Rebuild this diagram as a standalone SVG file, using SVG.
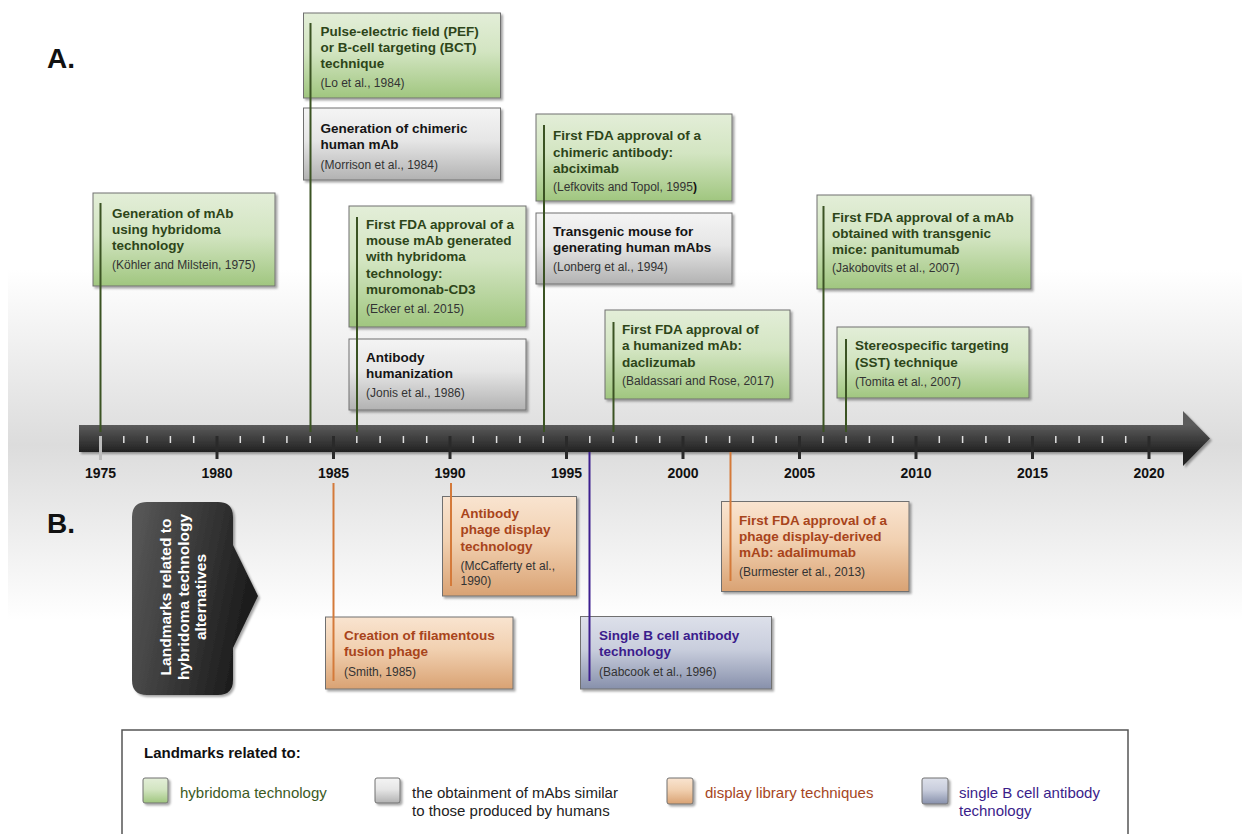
<svg xmlns="http://www.w3.org/2000/svg" width="1242" height="834" viewBox="0 0 1242 834">
<defs>
<linearGradient id="bg" x1="0" y1="270" x2="0" y2="620" gradientUnits="userSpaceOnUse">
<stop offset="0" stop-color="#ffffff"/><stop offset="0.5" stop-color="#dcdcdc"/><stop offset="1" stop-color="#ffffff"/>
</linearGradient>
<linearGradient id="gG" x1="0" y1="0" x2="0" y2="1"><stop offset="0" stop-color="#e3eed8"/><stop offset="0.45" stop-color="#d3e5c2"/><stop offset="1" stop-color="#a0c67f"/></linearGradient>
<linearGradient id="gY" x1="0" y1="0" x2="0" y2="1"><stop offset="0" stop-color="#f4f4f4"/><stop offset="0.45" stop-color="#e6e6e6"/><stop offset="1" stop-color="#b2b2b2"/></linearGradient>
<linearGradient id="gO" x1="0" y1="0" x2="0" y2="1"><stop offset="0" stop-color="#f9e4d0"/><stop offset="0.45" stop-color="#f1d0b0"/><stop offset="1" stop-color="#d9a273"/></linearGradient>
<linearGradient id="gB" x1="0" y1="0" x2="0" y2="1"><stop offset="0" stop-color="#dde0ea"/><stop offset="0.45" stop-color="#c9cedd"/><stop offset="1" stop-color="#8790ab"/></linearGradient>
<linearGradient id="bar" x1="0" y1="411" x2="0" y2="466" gradientUnits="userSpaceOnUse"><stop offset="0.25" stop-color="#5c5c5c"/><stop offset="0.75" stop-color="#212121"/></linearGradient>
<linearGradient id="dark" x1="0" y1="0" x2="1" y2="0.3"><stop offset="0" stop-color="#5a5a5a"/><stop offset="1" stop-color="#1c1c1c"/></linearGradient>
<filter id="sh" x="-10%" y="-10%" width="130%" height="130%"><feDropShadow dx="2" dy="2" stdDeviation="1.3" flood-color="#000" flood-opacity="0.35"/></filter>
</defs>
<style>
.box{stroke:#707070;stroke-width:1;filter:url(#sh)}
.g{fill:url(#gG)} .y{fill:url(#gY)} .o{fill:url(#gO)} .b{fill:url(#gB)}
.t{font-family:"Liberation Sans",Arial,sans-serif;font-weight:bold;font-size:13.5px}
.tg{fill:#2d4519} .ty{fill:#151515} .to{fill:#a8441b} .tb{fill:#3b1c8c}
.c{font-family:"Liberation Sans",Arial,sans-serif;font-size:12px;fill:#333}
.yr{font-family:"Liberation Sans",Arial,sans-serif;font-weight:bold;font-size:14px;fill:#111;text-anchor:middle}
.lg{fill:none;stroke:#3b5323;stroke-width:2}
.lo{fill:none;stroke:#d47a3a;stroke-width:2}
.lp{fill:none;stroke:#3d1f8f;stroke-width:2}
.leg{font-family:"Liberation Sans",Arial,sans-serif;font-size:15px}
.big{font-family:"Liberation Sans",Arial,sans-serif;font-weight:bold;font-size:28px;fill:#111}
</style>
<rect x="8" y="270" width="1234" height="350" fill="url(#bg)"/>
<text class="big" x="47" y="68">A.</text>
<text class="big" x="47" y="533">B.</text>

<g id="axis">
<path d="M79,425 H1183 V411 L1210,438.5 L1183,466 V452 H79 Z" fill="url(#bar)" filter="url(#sh)"/>
<path d="M123.8,436V443M147.1,436V443M170.4,436V443M193.7,436V443M240.3,436V443M263.6,436V443M286.9,436V443M310.2,436V443M356.8,436V443M380.1,436V443M403.4,436V443M426.7,436V443M473.3,436V443M496.6,436V443M519.9,436V443M543.2,436V443M589.8,436V443M613.1,436V443M636.4,436V443M659.7,436V443M706.3,436V443M729.6,436V443M752.9,436V443M776.2,436V443M822.8,436V443M846.1,436V443M869.4,436V443M892.7,436V443M939.3,436V443M962.6,436V443M985.9,436V443M1009.2,436V443M1055.8,436V443M1079.1,436V443M1102.4,436V443M1125.7,436V443" stroke="#e0e0e0" stroke-width="1.5"/>
<path d="M217,436V459M333.5,436V459M450,436V459M566.5,436V459M683,436V459M799.5,436V459M916,436V459M1032.5,436V459M1149,436V459" stroke="#2a2a2a" stroke-width="3"/>
<path d="M100.5,436V460" stroke="#bdbdbd" stroke-width="3"/>
<text class="yr" x="100.5" y="478">1975</text>
<text class="yr" x="217" y="478">1980</text>
<text class="yr" x="333.5" y="478">1985</text>
<text class="yr" x="450" y="478">1990</text>
<text class="yr" x="566.5" y="478">1995</text>
<text class="yr" x="683" y="478">2000</text>
<text class="yr" x="799.5" y="478">2005</text>
<text class="yr" x="916" y="478">2010</text>
<text class="yr" x="1032.5" y="478">2015</text>
<text class="yr" x="1149" y="478">2020</text>
</g>

<g id="n1975">
<rect class="box g" x="93" y="193" width="182" height="93"/>
<text class="t tg" x="112" y="218">Generation of mAb</text>
<text class="t tg" x="112" y="234">using hybridoma</text>
<text class="t tg" x="112" y="250">technology</text>
<text class="c" x="112" y="269">(Köhler and Milstein, 1975)</text>
</g>
<g id="nPEF">
<rect class="box g" x="303.5" y="13" width="197" height="85"/>
<text class="t tg" x="320.5" y="36">Pulse-electric field (PEF)</text>
<text class="t tg" x="320.5" y="52">or B-cell targeting (BCT)</text>
<text class="t tg" x="320.5" y="68">technique</text>
<text class="c" x="320.5" y="87">(Lo et al., 1984)</text>
</g>
<g id="nChimeric">
<rect class="box y" x="303.5" y="108" width="197" height="72"/>
<text class="t ty" x="320.5" y="132.5">Generation of chimeric</text>
<text class="t ty" x="320.5" y="148.5">human mAb</text>
<text class="c" x="320.5" y="169">(Morrison et al., 1984)</text>
</g>
<g id="nMuromonab">
<rect class="box g" x="349" y="206" width="177" height="121"/>
<text class="t tg" x="366" y="229">First FDA approval of a</text>
<text class="t tg" x="366" y="245">mouse mAb generated</text>
<text class="t tg" x="366" y="261">with hybridoma</text>
<text class="t tg" x="366" y="277.5">technology:</text>
<text class="t tg" x="366" y="294">muromonab-CD3</text>
<text class="c" x="366" y="313">(Ecker et al. 2015)</text>
</g>
<g id="nHumanization">
<rect class="box y" x="349" y="339" width="177" height="71"/>
<text class="t ty" x="366" y="361.5">Antibody</text>
<text class="t ty" x="366" y="377.5">humanization</text>
<text class="c" x="366" y="397">(Jonis et al., 1986)</text>
</g>
<g id="nAbciximab">
<rect class="box g" x="536" y="114" width="196" height="87"/>
<text class="t tg" x="553" y="140">First FDA approval of a</text>
<text class="t tg" x="553" y="156.5">chimeric antibody:</text>
<text class="t tg" x="553" y="173">abciximab</text>
<text class="c" x="553" y="191">(Lefkovits and Topol, 1995<tspan font-weight="bold" fill="#111">)</tspan></text>
</g>
<g id="nTransgenic">
<rect class="box y" x="536" y="213" width="196" height="71"/>
<text class="t ty" x="553" y="236">Transgenic mouse for</text>
<text class="t ty" x="553" y="252">generating human mAbs</text>
<text class="c" x="553" y="271">(Lonberg et al., 1994)</text>
</g>
<g id="nDaclizumab">
<rect class="box g" x="605" y="310" width="185" height="89"/>
<text class="t tg" x="622" y="334">First FDA approval of</text>
<text class="t tg" x="622" y="350">a humanized mAb:</text>
<text class="t tg" x="622" y="366.5">daclizumab</text>
<text class="c" x="622" y="385">(Baldassari and Rose, 2017)</text>
</g>
<g id="nPanitumumab">
<rect class="box g" x="817" y="195" width="214" height="94"/>
<text class="t tg" x="832" y="221.5">First FDA approval of a mAb</text>
<text class="t tg" x="832" y="237.5">obtained with transgenic</text>
<text class="t tg" x="832" y="254">mice: panitumumab</text>
<text class="c" x="832" y="272">(Jakobovits et al., 2007)</text>
</g>
<g id="nSST">
<rect class="box g" x="837" y="327" width="192" height="71"/>
<text class="t tg" x="855" y="350">Stereospecific targeting</text>
<text class="t tg" x="855" y="366.5">(SST) technique</text>
<text class="c" x="855" y="386">(Tomita et al., 2007)</text>
</g>

<g id="sideLabel">
<path d="M147,502 H218 Q233,502 233,517 V545 L258,596 L233,648 V680 Q233,695 218,695 H147 Q132,695 132,680 V517 Q132,502 147,502 Z" fill="url(#dark)" filter="url(#sh)"/>
<g font-family="Liberation Sans, Arial, sans-serif" font-weight="bold" font-size="15.5" fill="#ffffff" text-anchor="middle">
<text transform="translate(171,597) rotate(-90)">Landmarks related to</text>
<text transform="translate(188.5,597) rotate(-90)">hybridoma technology</text>
<text transform="translate(205.5,597) rotate(-90)">alternatives</text>
</g>
</g>

<g id="nFilamentous">
<rect class="box o" x="325.5" y="617" width="187.5" height="72"/>
<text class="t to" x="344" y="640">Creation of filamentous</text>
<text class="t to" x="344" y="656">fusion phage</text>
<text class="c" x="344" y="676">(Smith, 1985)</text>
</g>
<g id="nPhage">
<rect class="box o" x="442.5" y="496.5" width="134" height="99.5"/>
<text class="t to" x="460.5" y="518">Antibody</text>
<text class="t to" x="460.5" y="534">phage display</text>
<text class="t to" x="460.5" y="550.5">technology</text>
<text class="c" x="460.5" y="570">(McCafferty et al.,</text>
<text class="c" x="460.5" y="585">1990)</text>
</g>
<g id="nAdalimumab">
<rect class="box o" x="721.5" y="501.5" width="187.5" height="90"/>
<text class="t to" x="739" y="525">First FDA approval of a</text>
<text class="t to" x="739" y="540.5">phage display-derived</text>
<text class="t to" x="739" y="556.5">mAb: adalimumab</text>
<text class="c" x="739" y="576">(Burmester et al., 2013)</text>
</g>
<g id="nSingleB">
<rect class="box b" x="580.5" y="616.5" width="191" height="72.5"/>
<text class="t tb" x="599" y="640">Single B cell antibody</text>
<text class="t tb" x="599" y="656">technology</text>
<text class="c" x="599" y="676">(Babcook et al., 1996)</text>
</g>

<g id="connectors">
<path class="lg" d="M100.5,203V432"/>
<path class="lg" d="M310.5,23V432"/>
<path class="lg" d="M357,217V432"/>
<path class="lg" d="M544,125V432"/>
<path class="lg" d="M613.5,322V432"/>
<path class="lg" d="M823.5,206V432"/>
<path class="lg" d="M846,339V432"/>
<path class="lo" d="M333.5,483V681"/>
<path class="lo" d="M451,483V586"/>
<path class="lo" d="M730.5,452V581"/>
<path class="lp" d="M589.5,452V681"/>
</g>

<g id="legend">
<rect x="122" y="730" width="1006" height="120" fill="#ffffff" stroke="#555" stroke-width="1.5"/>
<text class="leg" x="144" y="758" font-weight="bold" fill="#111">Landmarks related to:</text>
<rect class="box g" x="143" y="778" width="25" height="25" rx="2"/>
<text class="leg" x="180" y="798" fill="#3b5a1f">hybridoma technology</text>
<rect class="box y" x="375" y="778" width="25" height="25" rx="2"/>
<text class="leg" x="412" y="798" fill="#222">the obtainment of mAbs similar</text>
<text class="leg" x="412" y="816" fill="#222">to those produced by humans</text>
<rect class="box o" x="667" y="778" width="26" height="26" rx="2"/>
<text class="leg" x="705" y="798" fill="#a5461e">display library techniques</text>
<rect class="box b" x="922" y="778" width="26" height="26" rx="2"/>
<text class="leg" x="959" y="798" fill="#3a1d8a">single B cell antibody</text>
<text class="leg" x="959" y="816" fill="#3a1d8a">technology</text>
</g>
</svg>
